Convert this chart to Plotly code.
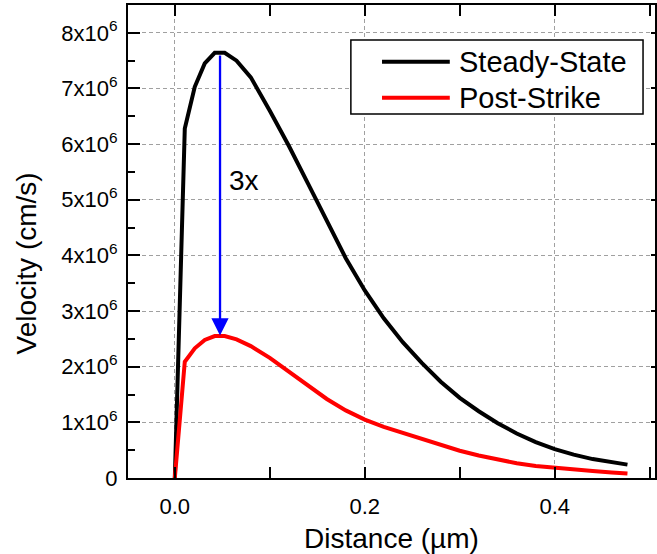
import plotly.graph_objects as go

# Distance (µm)
distance = [0, 0.0105, 0.021, 0.0315, 0.042, 0.0525, 0.065, 0.08, 0.10, 0.12, 0.14, 0.16,
            0.18, 0.20, 0.22, 0.24, 0.26, 0.28, 0.30, 0.32, 0.34, 0.36, 0.38, 0.40,
            0.42, 0.44, 0.46, 0.4766]
# Velocity in units of 1e6 cm/s
steady_state = [0, 6.28, 7.03, 7.45, 7.64, 7.64, 7.50, 7.20, 6.60, 5.97, 5.30, 4.61,
                3.95, 3.37, 2.87, 2.44, 2.07, 1.73, 1.44, 1.20, 0.985, 0.80, 0.645, 0.52,
                0.42, 0.34, 0.28, 0.24]
post_strike = [0, 2.09, 2.33, 2.48, 2.55, 2.55, 2.49, 2.37, 2.16, 1.92, 1.66, 1.42,
               1.215, 1.05, 0.92, 0.81, 0.70, 0.59, 0.49, 0.405, 0.33, 0.265, 0.215, 0.18,
               0.152, 0.127, 0.10, 0.08]

series_names = ["Steady-State", "Post-Strike"]
series_colors = ["#000000", "#ff0000"]

y_tick_vals = [0, 1, 2, 3, 4, 5, 6, 7, 8]
y_tick_text = ["0"] + [f"{v}x10<sup>6</sup>" for v in y_tick_vals[1:]]

arrow_x = 0.0476
arrow_top = 7.62
arrow_bottom = 2.56
ratio_label = "3x"

scale = 1e6
FONT = "Arial, Liberation Sans, sans-serif"

fig = go.Figure()
for name, ys, col in zip(series_names, [steady_state, post_strike], series_colors):
    fig.add_trace(go.Scatter(x=distance, y=[v * scale for v in ys], mode="lines", name=name,
                             line=dict(color=col, width=4), showlegend=False))

# hidden trace for right-side axis ticks
fig.add_trace(go.Scatter(x=[0], y=[0], yaxis="y2", mode="markers", marker=dict(opacity=0),
                         showlegend=False, hoverinfo="skip"))

grid = dict(showgrid=True, gridcolor="#a0a0a0", gridwidth=1, griddash="4px,3px")

fig.update_layout(
    width=657, height=554,
    margin=dict(l=128, r=0, t=5, b=76),
    paper_bgcolor="white", plot_bgcolor="white",
    font=dict(family=FONT, color="black"),
    xaxis=dict(range=[-0.0493, 0.5056], tickvals=[0, 0.2, 0.4], ticktext=["0.0", "0.2", "0.4"],
               ticks="inside", ticklen=11, tickwidth=2, tickcolor="black",
               minor=dict(dtick=0.1, tick0=0, ticks="inside", ticklen=6, tickwidth=2, tickcolor="black", showgrid=False),
               showline=True, linecolor="black", linewidth=2, mirror="allticks",
               tickfont=dict(size=22, family=FONT), ticklabelstandoff=8,
               title=dict(text="Distance (µm)", font=dict(size=28, family=FONT), standoff=12),
               zeroline=False, **grid),
    yaxis=dict(range=[0, 8.5 * scale], tickvals=[v * scale for v in y_tick_vals], ticktext=y_tick_text,
               ticks="inside", ticklen=12, tickwidth=2, tickcolor="black",
               minor=dict(dtick=0.5 * scale, tick0=0, ticks="inside", ticklen=7, tickwidth=2, tickcolor="black", showgrid=False),
               showline=True, linecolor="black", linewidth=2, mirror=True,
               tickfont=dict(size=22, family=FONT), ticklabelstandoff=4,
               zeroline=False, **grid),
    yaxis2=dict(range=[0, 8.5 * scale], overlaying="y", side="right", tickvals=[v * scale for v in y_tick_vals],
                showticklabels=False, ticks="inside", ticklen=4, tickwidth=2, tickcolor="black",
                showgrid=False, zeroline=False, showline=False),
)

# y-axis title
fig.add_annotation(text="Velocity (cm/s)", xref="paper", yref="paper", x=(26 - 128) / 529,
                   y=(478 - 263) / 473, textangle=-90, showarrow=False, xanchor="center", yanchor="middle",
                   font=dict(size=28, family=FONT))

# arrow
fig.add_annotation(x=arrow_x, y=arrow_bottom * scale, ax=arrow_x, ay=arrow_top * scale,
                   xref="x", yref="y", axref="x", ayref="y", text="", showarrow=True,
                   arrowhead=2, arrowsize=1.5, arrowwidth=2.3, arrowcolor="#0000ff", standoff=0)
fig.add_annotation(x=0.0545, y=5.34 * scale, xref="x", yref="y", text=ratio_label, showarrow=False,
                   xanchor="left", yanchor="middle", font=dict(size=28, family=FONT))

# legend (drawn manually)
fig.add_shape(type="rect", xref="paper", yref="paper", x0=0.4229, x1=0.9773, y0=0.7696, y1=0.926,
              line=dict(color="black", width=1.5), fillcolor="white", layer="above")
for i, (name, col) in enumerate(zip(series_names, series_colors)):
    yy = [0.8801, 0.804][i]
    fig.add_shape(type="line", xref="paper", yref="paper", x0=0.482, x1=0.6106, y0=yy, y1=yy,
                  line=dict(color=col, width=4), layer="above")
    fig.add_annotation(text=name, xref="paper", yref="paper", x=0.6238, y=yy, showarrow=False,
                       xanchor="left", yanchor="middle", font=dict(size=29, family=FONT))

fig.write_html("out.html")
